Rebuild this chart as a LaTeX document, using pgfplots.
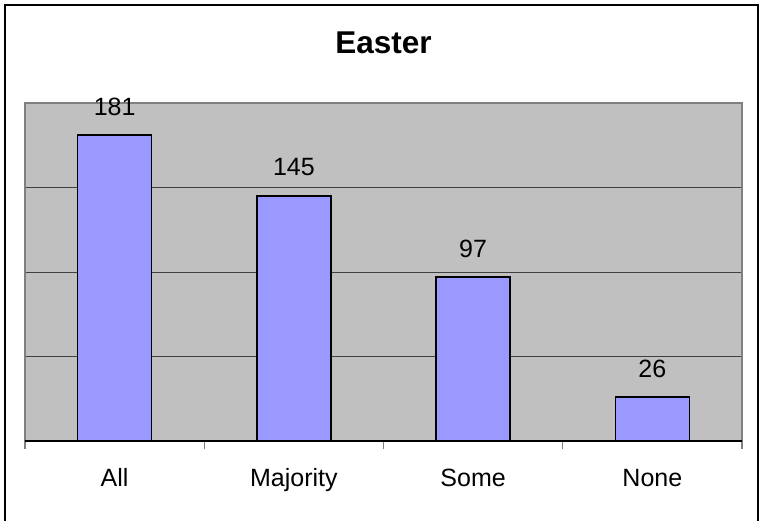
\documentclass[border=0pt]{standalone}
\usepackage{pgfplots}
\pgfplotsset{compat=1.18}
\usepackage{fontspec}
\setmainfont{Liberation Sans}
\definecolor{plotgray}{RGB}{192,192,192}
\definecolor{framegray}{RGB}{128,128,128}
\definecolor{barblue}{RGB}{153,153,255}
\begin{document}
\begin{tikzpicture}[x=1pt,y=1pt]
\useasboundingbox (0,0) rectangle (763,521);
\draw[line width=2.2pt] (5,-10) -- (5,516) -- (758,516) -- (758,-10);
\begin{axis}[
  at={(25pt,80pt)}, anchor=south west,
  scale only axis, width=717pt, height=338pt,
  xmin=-0.5, xmax=3.5, ymin=0, ymax=200,
  /pgf/number format/assume math mode=true,
  axis background/.style={fill=plotgray},
  axis line style={framegray, line width=1.2pt},
  ytick={50,100,150}, yticklabels={}, ytick style={draw=none},
  ymajorgrids, grid style={black!75, line width=0.9pt},
  xtick={0,1,2,3}, xticklabels={All,Majority,Some,None},
  xtick pos=bottom,
  major x tick style={draw=none},
  minor xtick={-0.5,0.5,1.5,2.5,3.5},
  minor tick length=8pt, tick align=outside,
  minor x tick style={framegray, line width=1.2pt},
  xticklabel style={anchor=base, yshift=-41pt, font=\fontsize{25}{29}\selectfont},
  title={Easter},
  title style={at={(0.5,1)}, anchor=base, yshift=43pt, font=\fontsize{31.5}{36}\selectfont\bfseries},
  ybar, bar width=74pt,
  nodes near coords,
  every node near coord/.append style={anchor=base, yshift=20pt, font=\fontsize{25}{29}\selectfont, black},
  clip=false,
]
\addplot[fill=barblue, draw=black, line width=1.4pt] coordinates {(0,181) (1,145) (2,97) (3,26)};
\draw[black, line width=1.2pt] (axis cs:-0.5,0) -- (axis cs:3.5,0);
\end{axis}
\end{tikzpicture}
\end{document}
